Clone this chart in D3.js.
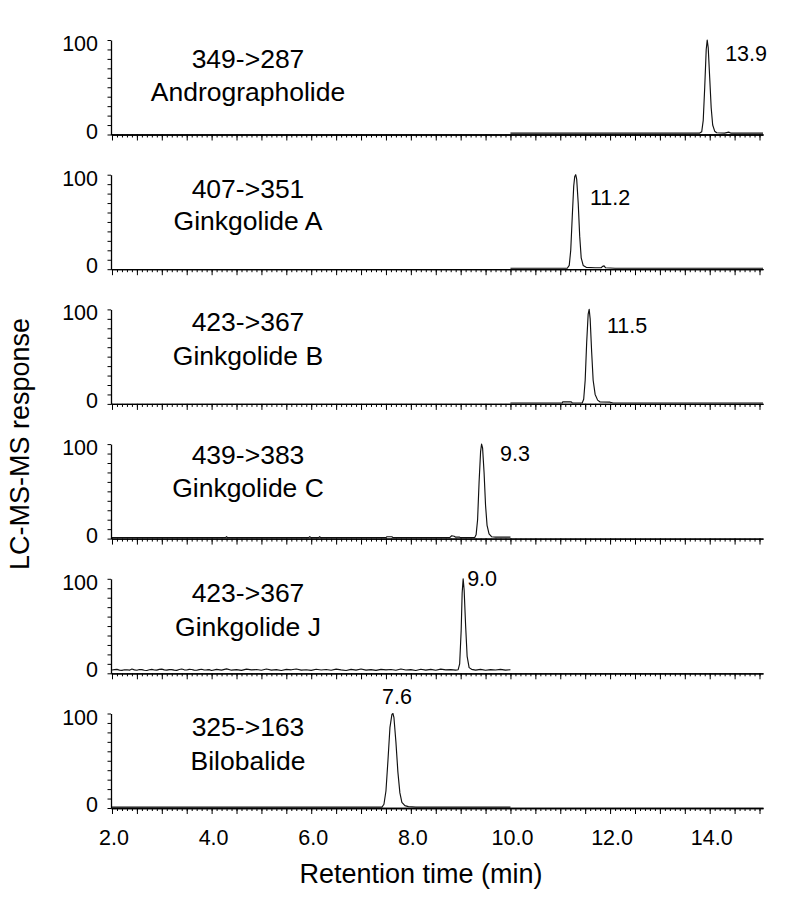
<!DOCTYPE html>
<html><head><meta charset="utf-8">
<script src="https://cdn.jsdelivr.net/npm/d3@7"></script>
<style>body{margin:0;background:#fff}svg{display:block}</style>
</head><body>
<svg id="chart" width="800" height="919"></svg>
<script>
// ---------------- data ----------------
const transitions = ["349->287","407->351","423->367","439->383","423->367","325->163"];
const compounds = ["Andrographolide","Ginkgolide A","Ginkgolide B","Ginkgolide C","Ginkgolide J","Bilobalide"];
const peakLabels = ["13.9","11.2","11.5","9.3","9.0","7.6"];
const peakLabelTime = [14.73, 12.0, 12.34, 10.09, 9.43, 7.72];
const peakLabelResp = [77.8, 67.7, 75, 82.5, 92, 110];
const xTickValues = [2,4,6,8,10,12,14];
const xTickLabels = ["2.0","4.0","6.0","8.0","10.0","12.0","14.0"];
const yTickValues = [0,100];
const yTickLabels = ["0","100"];

const traceAndrographolide = [[10.0,1.5],[13.80,1.5],[13.84,3],[13.87,15],[13.90,50],[13.93,90],[13.95,100],[13.97,92],[14.00,60],[14.03,28],[14.06,10],[14.10,3.5],[14.14,1.8],[14.30,1.5],[14.38,2.5],[14.42,1.5],[15.07,1.5]];
const traceGinkgolideA = [[10.0,1],[11.14,1],[11.18,4],[11.21,20],[11.24,55],[11.27,88],[11.29,98],[11.31,100],[11.33,95],[11.36,70],[11.39,35],[11.42,12],[11.46,4],[11.52,2],[11.70,1.5],[11.82,1.5],[11.85,3],[11.88,3.5],[11.91,1.5],[12.10,1],[15.07,1]];
const traceGinkgolideB = [[10.0,1],[11.04,1],[11.05,2.2],[11.22,2.2],[11.24,1],[11.44,1],[11.47,5],[11.50,25],[11.53,65],[11.56,95],[11.58,100],[11.60,90],[11.63,55],[11.66,25],[11.70,10],[11.75,4],[11.80,2],[12.00,1.8],[12.06,1],[15.07,1]];
const traceGinkgolideC = [[2.0,1],[4.28,1],[4.30,2],[4.32,1],[5.95,1],[5.97,2],[6.00,1],[6.15,1],[6.17,2],[6.19,1],[7.50,1],[7.52,2],[7.62,2],[7.64,1],[8.78,1],[8.82,3],[8.87,2.5],[8.90,1.5],[8.98,1.5],[9.00,1],[9.28,1],[9.31,4],[9.34,20],[9.37,60],[9.40,92],[9.42,100],[9.44,96],[9.47,70],[9.50,35],[9.53,14],[9.57,5],[9.62,2],[9.70,1.5],[10.0,1.5]];
const traceGinkgolideJ = [[2.0,3.5],[2.05,3.9],[2.1,4.2],[2.15,3.4],[2.2,3.1],[2.25,3.7],[2.3,3.8],[2.35,3.3],[2.4,4.5],[2.45,3.6],[2.5,3.2],[2.55,4.0],[2.6,3.9],[2.65,3.2],[2.7,3.0],[2.75,3.8],[2.8,4.1],[2.85,3.5],[2.9,3.4],[2.95,4.1],[3.0,4.4],[3.05,3.6],[3.1,3.3],[3.15,3.9],[3.2,3.9],[3.25,3.3],[3.3,3.1],[3.35,4.0],[3.4,4.6],[3.45,3.7],[3.5,3.5],[3.55,4.1],[3.6,4.0],[3.65,3.4],[3.7,3.2],[3.75,3.9],[3.8,4.3],[3.85,3.5],[3.9,3.6],[3.95,3.9],[4.0,3.0],[4.1,4.2],[4.2,3.4],[4.3,4.7],[4.4,3.3],[4.5,3.9],[4.6,3.1],[4.7,4.4],[4.8,3.6],[4.9,4.0],[5.0,3.2],[5.1,4.5],[5.2,3.4],[5.3,3.9],[5.4,3.0],[5.5,4.2],[5.6,3.7],[5.7,4.6],[5.8,3.3],[5.9,3.8],[6.0,3.1],[6.1,4.3],[6.2,3.5],[6.3,4.0],[6.4,3.2],[6.5,4.4],[6.6,3.6],[6.7,3.0],[6.8,4.1],[6.9,3.4],[7.0,4.5],[7.1,3.3],[7.2,3.9],[7.3,3.1],[7.4,4.2],[7.5,3.6],[7.6,4.0],[7.7,3.2],[7.8,4.6],[7.9,3.5],[8.0,3.9],[8.1,3.0],[8.2,4.3],[8.3,3.4],[8.4,4.1],[8.5,3.2],[8.6,4.4],[8.7,3.6],[8.8,3.9],[8.9,3.3],[8.95,3.8],[8.98,10],[9.01,45],[9.03,85],[9.05,100],[9.07,88],[9.10,50],[9.13,18],[9.17,6],[9.22,4.2],[9.3,3.4],[9.4,4.1],[9.5,3.2],[9.6,3.9],[9.7,3.5],[9.8,4.2],[9.9,3.3],[10.0,3.8]];
const traceBilobalide = [[2.0,1],[7.42,1],[7.46,4],[7.50,18],[7.54,50],[7.58,85],[7.62,99],[7.64,100],[7.66,96],[7.70,70],[7.74,38],[7.78,16],[7.82,6],[7.88,2.5],[7.95,1.5],[8.10,1],[10.0,1]];
const traces = [traceAndrographolide, traceGinkgolideA, traceGinkgolideB, traceGinkgolideC, traceGinkgolideJ, traceBilobalide];

// ---------------- layout ----------------
const font = "'Liberation Sans', Arial, sans-serif";
const panelZero0 = 134.5, panelStep = 134.7, panelH = 94.5;
const nameOffsets = [[-67,-34],[-71,-39],[-73,-39],[-75,-42],[-71,-37],[-72,-38]];

const svg = d3.select("#chart");
svg.append("rect").attr("width",800).attr("height",919).attr("fill","#fff");

const x = d3.scaleLinear().domain([1.98, 15.07]).range([111, 763]);
const minorTicks = d3.range(20, 151).map(d => d/10);
const majorTicks = d3.range(4, 31).map(d => d/2);

const line = d3.line().x(d => x(d[0]));

traces.forEach((tr, i) => {
  const y0 = panelZero0 + i*panelStep;
  const y = d3.scaleLinear().domain([0,100]).range([y0, y0 - panelH]);
  const g = svg.append("g");

  const axMinor = d3.axisBottom(x).tickValues(minorTicks).tickSize(3).tickSizeOuter(0).tickFormat("");
  const axMajor = d3.axisBottom(x).tickValues(majorTicks).tickSize(6).tickSizeOuter(0).tickFormat("");
  [axMinor, axMajor].forEach(ax => {
    const a = g.append("g").attr("transform", `translate(0,${y0})`).call(ax);
    a.select(".domain").attr("stroke","#000").attr("stroke-width",1.3);
    a.selectAll(".tick line").attr("stroke","#000").attr("stroke-width",1);
  });

  const ay = g.append("g").attr("transform","translate(111,0)")
    .call(d3.axisLeft(y).tickValues(d3.range(0,101,10)).tickSize(3.5).tickSizeOuter(0).tickFormat(""));
  ay.select(".domain").attr("stroke","#000").attr("stroke-width",1.3);
  ay.selectAll(".tick line").attr("stroke","#000").attr("stroke-width",1);

  yTickValues.forEach((v, k) => {
    g.append("text").attr("x", 98).attr("y", y(v) + (v === 100 ? 11 : 4))
      .attr("text-anchor","end").attr("font-family",font).attr("font-size",21.5)
      .attr("fill","#000").text(yTickLabels[k]);
  });

  g.append("path").datum(tr)
    .attr("d", line.y(d => y(d[1])))
    .attr("fill","none").attr("stroke","#111").attr("stroke-width",1.15)
    .attr("stroke-linejoin","round");

  g.append("text").attr("x",248).attr("y", y0 + nameOffsets[i][0])
    .attr("text-anchor","middle").attr("font-family",font).attr("font-size",26.5)
    .attr("fill","#000").text(transitions[i]);
  g.append("text").attr("x",248).attr("y", y0 + nameOffsets[i][1])
    .attr("text-anchor","middle").attr("font-family",font).attr("font-size",26.5)
    .attr("fill","#000").text(compounds[i]);

  g.append("text").attr("x", x(peakLabelTime[i])).attr("y", y(peakLabelResp[i]))
    .attr("text-anchor","middle").attr("font-family",font).attr("font-size",21.5)
    .attr("fill","#000").text(peakLabels[i]);

  if (i === traces.length - 1) {
    xTickValues.forEach((v, k) => {
      g.append("text").attr("x", x(v) + 2).attr("y", y0 + 37)
        .attr("text-anchor","middle").attr("font-family",font).attr("font-size",21.5)
        .attr("fill","#000").text(xTickLabels[k]);
    });
  }
});

svg.append("text").attr("x", 421).attr("y", 883).attr("text-anchor","middle")
  .attr("font-family",font).attr("font-size",27).attr("fill","#000").text("Retention time (min)");
svg.append("text").attr("transform","translate(29,444) rotate(-90)").attr("text-anchor","middle")
  .attr("font-family",font).attr("font-size",27).attr("fill","#000").text("LC-MS-MS response");
</script>
</body></html>
